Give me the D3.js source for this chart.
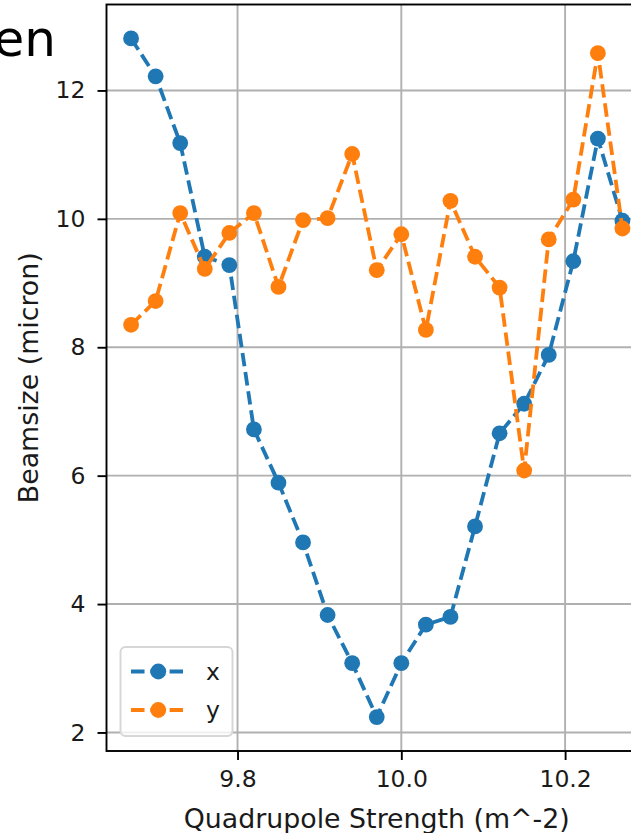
<!DOCTYPE html>
<html>
<head>
<meta charset="utf-8">
<script src="https://cdn.jsdelivr.net/npm/d3@7"></script>
<style>
  html, body { margin: 0; padding: 0; background: #fff; }
  svg { display: block; }
  text { font-family: "DejaVu Sans", sans-serif; }
</style>
</head>
<body>
<svg id="chart" width="631" height="833"></svg>
<script>
// ---- data ----
const quadStrength = [9.67, 9.70, 9.73, 9.76, 9.79, 9.82, 9.85, 9.88, 9.91, 9.94, 9.97,
                      10.00, 10.03, 10.06, 10.09, 10.12, 10.15, 10.18, 10.21, 10.24, 10.27];
const beamX = [12.81, 12.22, 11.18, 9.41, 9.28, 6.72, 5.89, 4.96, 3.83, 3.08, 2.24,
               3.08, 3.68, 3.80, 5.21, 6.66, 7.12, 7.88, 9.34, 11.25, 9.97];
const beamY = [8.35, 8.72, 10.09, 9.22, 9.78, 10.09, 8.94, 9.98, 10.01, 11.01, 9.20,
               9.76, 8.27, 10.28, 9.41, 8.93, 6.08, 9.68, 10.30, 12.58, 9.85];
const seriesNames = ["x", "y"];
const seriesColors = ["#1f77b4", "#ff7f0e"];
const xTickValues = [9.8, 10.0, 10.2];
const yTickValues = [2, 4, 6, 8, 10, 12];
const xLabel = "Quadrupole Strength (m^-2)";
const yLabel = "Beamsize (micron)";
const clippedTitle = "en";

(function () {
// ---- layout ----
const svg = d3.select("#chart");
const W = 631, H = 833;
svg.append("rect").attr("width", W).attr("height", H).attr("fill", "#fff");

const pL = 106.5, pR = 647, pT = 4.5, pB = 751;

function padded(vals) {
  const lo = d3.min(vals), hi = d3.max(vals), p = (hi - lo) * 0.05;
  return [lo - p, hi + p];
}
const x = d3.scaleLinear().domain(padded(quadStrength)).range([pL, pR]);
const y = d3.scaleLinear().domain(padded(beamX.concat(beamY))).range([pB, pT]);

const tickFont = 23.5, labelFont = 26.8;
const lw = 3.8, mr = 7.9, dash = "13.5,5.8";

// grid
const grid = svg.append("g");
grid.selectAll(".gx").data(xTickValues).join("line")
  .attr("x1", d => x(d)).attr("x2", d => x(d)).attr("y1", pT).attr("y2", pB)
  .attr("stroke", "#b0b0b0").attr("stroke-width", 1.9);
grid.selectAll(".gy").data(yTickValues).join("line")
  .attr("x1", pL).attr("x2", pR).attr("y1", d => y(d)).attr("y2", d => y(d))
  .attr("stroke", "#b0b0b0").attr("stroke-width", 1.9);

// series
const series = [beamX, beamY];
const line = d3.line().x(d => x(d[0])).y(d => y(d[1]));
series.forEach((vals, i) => {
  const pts = quadStrength.map((q, j) => [q, vals[j]]);
  const g = svg.append("g");
  g.append("path").attr("d", line(pts)).attr("fill", "none")
    .attr("stroke", seriesColors[i]).attr("stroke-width", lw)
    .attr("stroke-dasharray", dash);
  g.selectAll("circle").data(pts).join("circle")
    .attr("cx", d => x(d[0])).attr("cy", d => y(d[1])).attr("r", mr)
    .attr("fill", seriesColors[i]);
});

// axes
const xAxis = svg.append("g").attr("transform", `translate(0,${pB})`)
  .call(d3.axisBottom(x).tickValues(xTickValues).tickFormat(d3.format(".1f"))
        .tickSize(9).tickPadding(10));
const yAxis = svg.append("g").attr("transform", `translate(${pL},0)`)
  .call(d3.axisLeft(y).tickValues(yTickValues).tickFormat(d3.format("d"))
        .tickSize(9).tickPadding(12));
[xAxis, yAxis].forEach(a => {
  a.select(".domain").remove();
  a.selectAll(".tick line").attr("stroke", "#000").attr("stroke-width", 1.9);
  a.selectAll(".tick text").attr("fill", "#1a1a1a").attr("font-size", tickFont)
    .attr("font-family", "DejaVu Sans");
});

// spines
svg.append("rect").attr("x", pL).attr("y", pT)
  .attr("width", pR - pL).attr("height", pB - pT)
  .attr("fill", "none").attr("stroke", "#000").attr("stroke-width", 1.9);

// axis labels
svg.append("text").attr("x", (pL + pR) / 2).attr("y", 828)
  .attr("text-anchor", "middle").attr("font-size", labelFont).attr("fill", "#1a1a1a")
  .text(xLabel);
svg.append("text").attr("transform", `translate(38,${(pT + pB) / 2}) rotate(-90)`)
  .attr("text-anchor", "middle").attr("font-size", labelFont).attr("fill", "#1a1a1a")
  .text(yLabel);

// clipped title fragment (cut at the left edge, as in the reference)
svg.append("text").attr("x", 56).attr("y", 56).attr("text-anchor", "end")
  .attr("font-family", "Open Sans").attr("font-size", 50).attr("fill", "#000")
  .text(clippedTitle);

// legend
const lg = svg.append("g");
lg.append("rect").attr("x", 120.5).attr("y", 647).attr("width", 112).attr("height", 89)
  .attr("rx", 5).attr("fill", "#fff").attr("fill-opacity", 0.8)
  .attr("stroke", "#d6d6d6").attr("stroke-width", 1.9);
seriesNames.forEach((name, i) => {
  const cy = 671.5 + i * 38.5;
  lg.append("line").attr("x1", 131).attr("x2", 183).attr("y1", cy).attr("y2", cy)
    .attr("stroke", seriesColors[i]).attr("stroke-width", lw)
    .attr("stroke-dasharray", dash);
  lg.append("circle").attr("cx", 158.3).attr("cy", cy).attr("r", mr)
    .attr("fill", seriesColors[i]);
  lg.append("text").attr("x", 206).attr("y", cy).attr("dy", "0.35em")
    .attr("font-size", tickFont).attr("fill", "#1a1a1a").text(name);
});
})();
</script>
</body>
</html>
